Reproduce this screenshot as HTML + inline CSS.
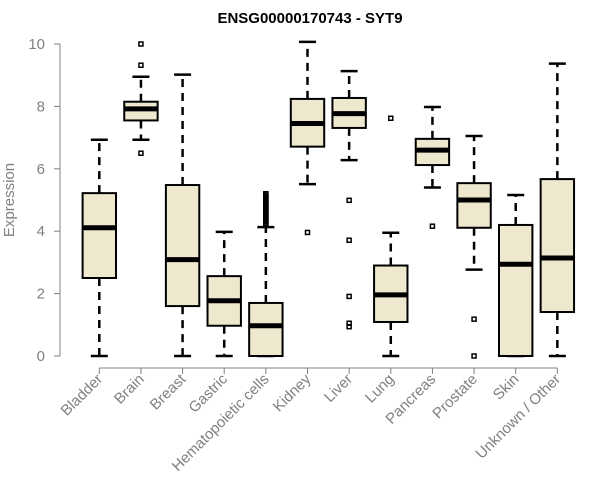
<!DOCTYPE html>
<html><head><meta charset="utf-8"><style>body{margin:0;background:#fff}svg{display:block;font-family:"Liberation Sans",Arial,sans-serif}</style></head>
<body>
<svg id="chart" width="600" height="500" viewBox="0 0 600 500">
<text x="310" y="23" text-anchor="middle" font-weight="bold" font-size="15">ENSG00000170743 - SYT9</text>
<text transform="translate(14,200) rotate(-90)" text-anchor="middle" font-size="15" fill="#808080">Expression</text>
<g id="axes"></g><g id="boxes"></g>
</svg>
<script>
const categories=["Bladder","Brain","Breast","Gastric","Hematopoietic cells","Kidney","Liver","Lung","Pancreas","Prostate","Skin","Unknown / Other"];
const mins=[0,6.93,0,0,0,5.51,6.28,0,5.4,2.77,0,0];
const q1s=[2.5,7.55,1.6,0.97,0,6.71,7.31,1.09,6.12,4.11,0,1.41];
const medians=[4.11,7.92,3.09,1.77,0.97,7.45,7.77,1.96,6.6,5.0,2.94,3.14];
const q3s=[5.22,8.15,5.48,2.56,1.7,8.24,8.27,2.9,6.96,5.54,4.2,5.67];
const maxs=[6.93,8.95,9.02,3.98,4.13,10.07,9.13,3.95,7.98,7.05,5.16,9.37];
const outliers=[[],[10.0,9.32,6.5],[],[],[4.2,4.25,4.3,4.35,4.4,4.45,4.5,4.55,4.6,4.65,4.7,4.75,4.8,4.85,4.9,4.95,5.0,5.05,5.1,5.15,5.2],[3.96],[4.99,3.71,1.91,1.05,0.94],[7.62],[4.16],[1.18,0],[],[]];
const yTicks=[0,2,4,6,8,10];
const NS="http://www.w3.org/2000/svg";
const y=v=>356-31.2*v;
const x=i=>99.3+41.64*i;
function mk(tag,attrs,parent){const e=document.createElementNS(NS,tag);for(const k in attrs)e.setAttribute(k,attrs[k]);parent.appendChild(e);return e;}
const ax=document.getElementById('axes'),bx=document.getElementById('boxes');
let l=mk('line',{x1:60,x2:60,y1:y(10),y2:y(0),stroke:'#808080'},ax);


yTicks.forEach(t=>{
 mk('line',{x1:54,x2:60,y1:y(t),y2:y(t),stroke:'#808080'},ax);
 const tx=mk('text',{x:45,y:y(t)+5,'text-anchor':'end','font-size':15,fill:'#808080'},ax);tx.textContent=t;
 
 
});
l=mk('line',{x1:x(0),x2:x(11),y1:368,y2:368,stroke:'#808080'},ax);


categories.forEach((c,i)=>{
 const cx=x(i);
 mk('line',{x1:cx,x2:cx,y1:368,y2:374,stroke:'#808080'},ax);
 const tx=mk('text',{transform:`translate(${cx+4},380) rotate(-45)`,'text-anchor':'end','font-size':15,fill:'#808080'},ax);tx.textContent=c;
 
 
 const g=mk('g',{},bx);
 
 
 const w='stroke:#000;stroke-width:2.5';
 mk('line',{x1:cx,x2:cx,y1:y(q3s[i]),y2:y(maxs[i]),style:w,'stroke-dasharray':'8,6'},g);
 mk('line',{x1:cx,x2:cx,y1:y(q1s[i]),y2:y(mins[i]),style:w,'stroke-dasharray':'8,6'},g);
 mk('line',{x1:cx-8.5,x2:cx+8.5,y1:y(maxs[i]),y2:y(maxs[i]),style:w},g);
 mk('line',{x1:cx-8.5,x2:cx+8.5,y1:y(mins[i]),y2:y(mins[i]),style:w},g);
 mk('rect',{x:cx-16.7,y:y(q3s[i]),width:33.4,height:Math.max(0,y(q1s[i])-y(q3s[i])),fill:'#ede8ce',stroke:'#000','stroke-width':2},g);
 mk('line',{x1:cx-16.7,x2:cx+16.7,y1:y(medians[i]),y2:y(medians[i]),stroke:'#000','stroke-width':5},g);
 outliers[i].forEach(o=>{const r=mk('rect',{x:cx-2,y:y(o)-2,width:4,height:4,fill:'none',stroke:'#000','stroke-width':1.5},g);
  
  });
});
</script>
</body></html>
